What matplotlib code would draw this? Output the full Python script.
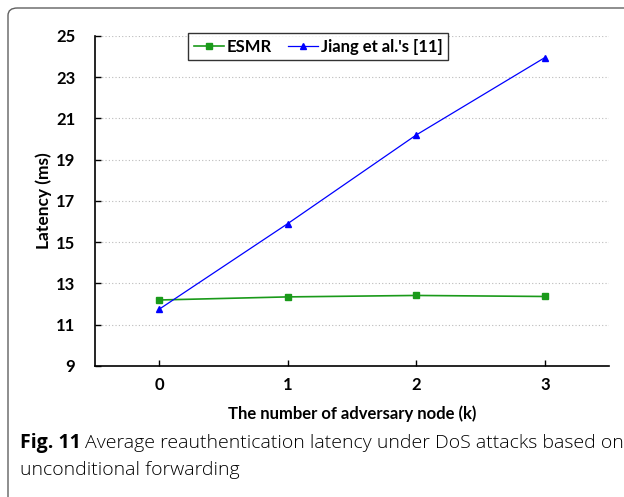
import matplotlib
matplotlib.use("Agg")
import matplotlib.pyplot as plt
from matplotlib.patches import FancyBboxPatch

# values
k_nodes = [0, 1, 2, 3]
esmr = [12.2, 12.35, 12.42, 12.37]
jiang = [11.75, 15.9, 20.2, 23.95]
y_ticks = [9, 11, 13, 15, 17, 19, 21, 23, 25]

fig = plt.figure(figsize=(6.24, 4.97), dpi=100)
ax = fig.add_axes([0.152, 0.2636, 0.824, 0.664])

# rounded frame round the figure (cut off on the right and bottom)
frame = FancyBboxPatch((8 / 624, -0.5), 3.0, (497 - 8) / 497 + 0.5,
                       boxstyle="round,pad=0,rounding_size=0.015",
                       transform=fig.transFigure, fill=False,
                       edgecolor="#606060", linewidth=1.0)
fig.patches.append(frame)

ax.plot(k_nodes, esmr, color="#1a9a1a", marker="s", markersize=5,
        linewidth=1.2, label="ESMR")
ax.plot(k_nodes, jiang, color="#0000ff", marker="^", markersize=4.5,
        linewidth=0.9, label="Jiang et al.'s [11]")

ax.set_xlim(-0.5, 3.5)
ax.set_ylim(9, 25)
ax.set_xticks(k_nodes)
ax.set_yticks(y_ticks)
ax.grid(axis="y", color="#bbbbbb", linestyle=(0, (1, 2)), linewidth=0.8)
ax.set_axisbelow(True)

for s in ["top", "right"]:
    ax.spines[s].set_visible(False)
for s in ["left", "bottom"]:
    ax.spines[s].set_linewidth(1.2)

ax.tick_params(axis="both", direction="in", length=4, width=1, pad=8)
ax.tick_params(axis="y", pad=14)
for lbl in ax.get_xticklabels() + ax.get_yticklabels():
    lbl.set_fontfamily("Lato")
    lbl.set_fontweight("bold")
    lbl.set_fontsize(12)

ax.set_xlabel("The number of adversary node (k)", fontfamily="Lato",
              fontweight="bold", fontsize=12, labelpad=9)
ax.set_ylabel("Latency (ms)", fontfamily="Lato", fontweight="bold",
              fontsize=12.5)
ax.yaxis.set_label_coords(-0.083, 0.5)

leg = ax.legend(loc="upper center", bbox_to_anchor=(0.434, 1.035), ncol=2,
                frameon=True, fancybox=False, handlelength=1.8,
                handletextpad=0.15, columnspacing=1.0, borderpad=0.35,
                prop={"family": "Lato", "weight": "bold", "size": 12})
leg.get_frame().set_edgecolor("black")
leg.get_frame().set_linewidth(1.0)

cap_size = 14
t1 = fig.text(20 / 624, 1 - 443 / 497, "Fig. 11", fontsize=cap_size,
              fontweight="bold", va="center", ha="left",
              fontfamily="Open Sans")
fig.canvas.draw()
bb = t1.get_window_extent()
fig.text((bb.x1 + 4) / 624, 1 - 443 / 497,
         "Average reauthentication latency under DoS attacks based on",
         fontsize=cap_size, va="center", ha="left", fontfamily="Open Sans",
         fontweight="light")
fig.text(20 / 624, 1 - 470 / 497, "unconditional forwarding",
         fontsize=cap_size, va="center", ha="left", fontfamily="Open Sans",
         fontweight="light")

fig.savefig("out.png", dpi=100)
